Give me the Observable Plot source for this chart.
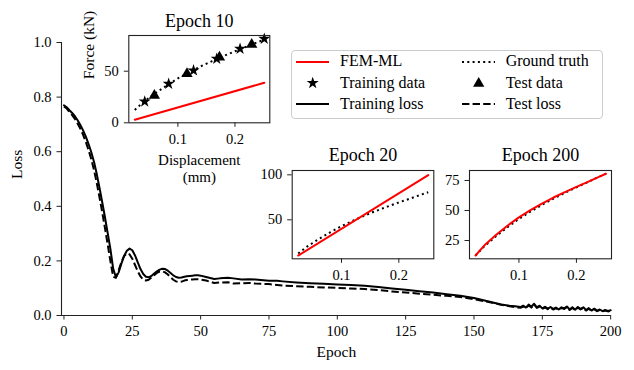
<!DOCTYPE html>
<html><head><meta charset="utf-8">
<script src="https://cdn.jsdelivr.net/npm/d3@7"></script>
<script src="https://cdn.jsdelivr.net/npm/@observablehq/plot@0.6"></script>
<style>
body{margin:0;background:#fff;}
#wrap{position:relative;width:634px;height:370px;font-family:"Liberation Serif","Times New Roman","DejaVu Serif",serif;color:#000;background:#fff;overflow:hidden}
#wrap svg{position:absolute;left:0;top:0;overflow:visible;font-family:"Liberation Serif","Times New Roman","DejaVu Serif",serif !important}
#wrap svg text{font-family:"Liberation Serif","Times New Roman","DejaVu Serif",serif}
.lg{position:absolute;font-size:16px;line-height:16px;white-space:nowrap}
</style></head><body><div id="wrap"></div>
<script>
// ---------- main loss curves ----------
const epochs = [0,1,2,3,4,5,6,7,8,9,10,11,12,13,14,15,16,17,18,19,20,21,22,23,24,25,26,27,28,29,30,31,32,33,34,35,36,37,38,39,40,41,42,43,44,45,46,47,48,49,50,
52,55,57,60,62,65,68,70,73,75,78,80,85,90,95,100,105,110,115,120,125,130,135,140,145,150,155,160,163,165,167,
168,169,170,171,172,173,174,175,176,177,178,179,180,181,182,183,184,185,186,187,188,189,190,191,192,193,194,195,196,197,198,199,200];
const trainLoss = [0.770,0.763,0.752,0.742,0.730,0.715,0.698,0.678,0.655,0.628,0.598,0.562,0.518,0.468,0.415,0.360,0.302,0.243,0.172,0.140,
0.158,0.190,0.218,0.237,0.245,0.239,0.220,0.195,0.170,0.152,0.142,0.140,0.145,0.154,0.162,0.168,0.171,0.170,0.164,0.156,
0.147,0.141,0.138,0.139,0.142,0.144,0.145,0.146,0.147,0.147,0.146,
0.141,0.134,0.136,0.138,0.136,0.132,0.133,0.132,0.129,0.127,0.127,0.125,0.121,0.118,0.116,0.114,0.112,0.109,0.104,0.099,0.094,0.089,0.084,0.078,0.072,0.064,0.052,0.040,0.036,0.034,0.031,
0.036,0.029,0.040,0.032,0.043,0.030,0.036,0.026,0.032,0.025,0.031,0.024,0.029,0.022,0.030,0.026,0.033,0.022,0.030,0.021,0.031,0.024,0.030,0.020,0.027,0.018,0.025,0.018,0.022,0.016,0.020,0.017,0.019];
const testLoss = [0.766,0.758,0.746,0.734,0.720,0.703,0.684,0.662,0.636,0.606,0.572,0.532,0.485,0.433,0.378,0.320,0.260,0.198,0.142,0.138,
0.165,0.195,0.218,0.228,0.224,0.208,0.185,0.162,0.143,0.131,0.128,0.131,0.139,0.148,0.156,0.161,0.162,0.158,0.150,0.140,
0.131,0.125,0.122,0.124,0.128,0.130,0.131,0.132,0.133,0.133,0.132,
0.128,0.119,0.121,0.122,0.117,0.118,0.119,0.117,0.116,0.115,0.112,0.110,0.107,0.105,0.103,0.101,0.099,0.097,0.093,0.088,0.084,0.080,0.076,0.072,0.068,0.060,0.050,0.039,0.034,0.031,0.028,
0.033,0.027,0.037,0.029,0.040,0.028,0.033,0.024,0.030,0.023,0.029,0.022,0.027,0.020,0.028,0.024,0.031,0.020,0.028,0.019,0.029,0.022,0.028,0.018,0.025,0.017,0.023,0.016,0.020,0.015,0.018,0.015,0.017];
const epochTicks = [0,25,50,75,100,125,150,175,200];
const lossTicks = [0,0.2,0.4,0.6,0.8,1.0];
const EPOCH_DOMAIN = [-0.9, 200.2];
const LOSS_DOMAIN = [0, 1];

// ---------- inset data (force vs displacement) ----------
const dispX = [0.0245,0.04,0.06,0.08,0.10,0.12,0.14,0.16,0.18,0.20,0.22,0.24,0.2513];
const groundTruth = [12.5,20.3,28.5,36,43,49,54.7,59.8,64.7,69.3,73.7,78.2,80.6];
const femEpoch200 = [12.5,21,29.5,37.3,44.3,50.3,55.8,60.8,65.3,69.6,73.8,78.2,80.6];
const femLineX = [0.0245, 0.2513];
const femEpoch10 = [2.9, 38.8];
const femEpoch20 = [10.3, 99.7];
const trainX = [0.0419,0.0838,0.1274,0.168,0.2089,0.2513];
const trainY = [20.6,37.8,50.7,62,71.7,81.4];
const testX = [0.0588,0.1159,0.1728,0.2293];
const testY = [26.5,47.5,63.6,75.9];
const dispTicks = [0.1, 0.2];
const DISP_DOMAIN = [0.014, 0.261];

const FONT = '"Liberation Serif", "Times New Roman", "DejaVu Serif", serif';
const AX = "#222";
const wrap = document.getElementById("wrap");

const rows = epochs.map((e,i)=>({epoch:e, train:trainLoss[i], test:testLoss[i]}));

const main = Plot.plot({
  width:634, height:370,
  marginLeft:61, marginRight:23.3, marginTop:42, marginBottom:55,
  style:{fontFamily:FONT, fontSize:"14.5px", color:"#000", background:"transparent"},
  x:{domain:EPOCH_DOMAIN}, y:{domain:LOSS_DOMAIN},
  marks:[
    Plot.line(rows,{x:"epoch",y:"test",stroke:"#000",strokeWidth:2,strokeDasharray:"7.4,3.2",strokeLinecap:"butt"}),
    Plot.line(rows,{x:"epoch",y:"train",stroke:"#000",strokeWidth:2}),
    Plot.ruleY([LOSS_DOMAIN[0]],{stroke:AX,strokeWidth:1.1}),
    Plot.ruleX([EPOCH_DOMAIN[0]],{stroke:AX,strokeWidth:1.1}),
    Plot.axisX({ticks:epochTicks, tickSize:4.5, tickPadding:6, label:null, tickFormat:d=>String(d), stroke:AX, fontFamily:FONT}),
    Plot.axisY({ticks:lossTicks, tickSize:4.5, tickPadding:5.5, label:null, tickFormat:d=>d.toFixed(1), stroke:AX, fontFamily:FONT}),
    Plot.text(["Epoch"],{text:d=>d, frameAnchor:"bottom", lineAnchor:"bottom", dy:41, fontSize:15.5, fontFamily:FONT}),
    Plot.text(["Loss"],{text:d=>d, frameAnchor:"left", lineAnchor:"middle", dx:-44, rotate:-90, fontSize:15.5, fontFamily:FONT})
  ]
});
wrap.appendChild(main);

function inset(o){
  return Plot.plot({
    width:634, height:370,
    marginLeft:o.left, marginRight:634-o.right, marginTop:o.top, marginBottom:370-o.bottom,
    style:{fontFamily:FONT, fontSize:"14.5px", color:"#000", background:"transparent"},
    x:{domain:DISP_DOMAIN}, y:{domain:o.yDomain},
    marks:[
      Plot.frame({fill:"white", stroke:"none"}),
      ...o.marks,
      Plot.axisX({ticks:dispTicks, tickSize:4.5, tickPadding:6, label:null, tickFormat:d=>d.toFixed(1), stroke:AX, fontFamily:FONT}),
      Plot.axisY({ticks:o.yTicks, tickSize:4.5, tickPadding:5.5, label:null, tickFormat:d=>String(d), stroke:AX, fontFamily:FONT}),
      Plot.frame({stroke:AX, strokeWidth:1.1}),
      Plot.text([o.title],{text:d=>d, frameAnchor:"top", lineAnchor:"bottom", dy:o.titleDy, fontSize:18, fontFamily:FONT}),
      ...(o.extra||[])
    ]
  });
}
const gtRows = dispX.map((x,i)=>({x, gt:groundTruth[i], fem:femEpoch200[i]}));
const gtLine = Plot.line(gtRows,{x:"x",y:"gt",stroke:"#000",strokeWidth:2,strokeDasharray:"2,3.3",strokeLinecap:"butt"});
const fem10Rows = femLineX.map((x,i)=>({x,y:femEpoch10[i]}));
const fem20Rows = femLineX.map((x,i)=>({x,y:femEpoch20[i]}));
const trainRows = trainX.map((x,i)=>({x,y:trainY[i]}));
const testRows = testX.map((x,i)=>({x,y:testY[i]}));

wrap.appendChild(inset({
  left:128.3, right:269.3, top:35, bottom:122.3, yDomain:[0,84.6], yTicks:[0,50], title:"Epoch 10", titleDy:-8.5,
  marks:[
    Plot.line(fem10Rows,{x:"x",y:"y",stroke:"#ff0000",strokeWidth:2}),
    gtLine,
    Plot.dot(trainRows,{x:"x",y:"y",symbol:"star",r:3.8,fill:"#000",stroke:"none"}),
    Plot.dot(testRows,{x:"x",y:"y",symbol:"triangle",r:4.2,fill:"#000",stroke:"none"})
  ],
  extra:[
    Plot.text(["Force (kN)"],{text:d=>d, frameAnchor:"left", lineAnchor:"middle", dx:-39.5, rotate:-90, fontSize:15.5, fontFamily:FONT}),
    Plot.text(["Displacement"],{text:d=>d, frameAnchor:"bottom", lineAnchor:"top", dy:32, fontSize:15, fontFamily:FONT}),
    Plot.text(["(mm)"],{text:d=>d, frameAnchor:"bottom", lineAnchor:"top", dy:48.5, fontSize:15, fontFamily:FONT})
  ]
}));
wrap.appendChild(inset({
  left:291.7, right:433.3, top:170, bottom:258.3, yDomain:[6.7,104.8], yTicks:[50,100], title:"Epoch 20", titleDy:-9.3,
  marks:[
    gtLine,
    Plot.line(fem20Rows,{x:"x",y:"y",stroke:"#ff0000",strokeWidth:2})
  ]
}));
wrap.appendChild(inset({
  left:469, right:611, top:170, bottom:258.3, yDomain:[9.75,83.3], yTicks:[25,50,75], title:"Epoch 200", titleDy:-9.3,
  marks:[
    gtLine,
    Plot.line(gtRows,{x:"x",y:"fem",stroke:"#ff0000",strokeWidth:2})
  ]
}));

// ---------- legend ----------
const legendItems = [
  {label:"FEM-ML", kind:"red", col:0, row:0},
  {label:"Ground truth", kind:"dotted", col:1, row:0},
  {label:"Training data", kind:"star", col:0, row:1},
  {label:"Test data", kind:"triangle", col:1, row:1},
  {label:"Training loss", kind:"solid", col:0, row:2},
  {label:"Test loss", kind:"dashed", col:1, row:2}
];
const box = document.createElement("div");
box.style.cssText = "position:absolute;left:291px;top:50px;width:312px;height:69px;border:1px solid #ccc;border-radius:4px;background:rgba(255,255,255,0.85);box-sizing:border-box";
wrap.appendChild(box);
const rowY = [61.7, 83.3, 104];
const swX = [296, 461.7], txX = [340, 505.7];
for (const it of legendItems){
  const ns = "http://www.w3.org/2000/svg";
  const s = document.createElementNS(ns,"svg");
  s.setAttribute("width",34); s.setAttribute("height",16);
  s.style.cssText = `position:absolute;left:${swX[it.col]}px;top:${rowY[it.row]-8}px;`;
  let inner = "";
  if (it.kind==="red") inner = `<line x1="0" x2="33" y1="8" y2="8" stroke="#ff0000" stroke-width="2"/>`;
  if (it.kind==="solid") inner = `<line x1="0" x2="33" y1="8" y2="8" stroke="#000" stroke-width="2"/>`;
  if (it.kind==="dashed") inner = `<line x1="0" x2="33" y1="8" y2="8" stroke="#000" stroke-width="2" stroke-dasharray="7.4,3.2"/>`;
  if (it.kind==="dotted") inner = `<line x1="0" x2="33" y1="8" y2="8" stroke="#000" stroke-width="2" stroke-dasharray="2,3.3"/>`;
  if (it.kind==="star") inner = `<path transform="translate(16.7,8)" d="${d3.symbol(d3.symbolStar, 3.8*3.8*Math.PI)()}" fill="#000"/>`;
  if (it.kind==="triangle") inner = `<path transform="translate(16.7,8.5)" d="${d3.symbol(d3.symbolTriangle, 4.2*4.2*Math.PI)()}" fill="#000"/>`;
  s.innerHTML = inner;
  wrap.appendChild(s);
  const t = document.createElement("div");
  t.className = "lg";
  t.textContent = it.label;
  t.style.left = txX[it.col]+"px";
  t.style.top = (rowY[it.row]-8.5)+"px";
  wrap.appendChild(t);
}
</script></body></html>
